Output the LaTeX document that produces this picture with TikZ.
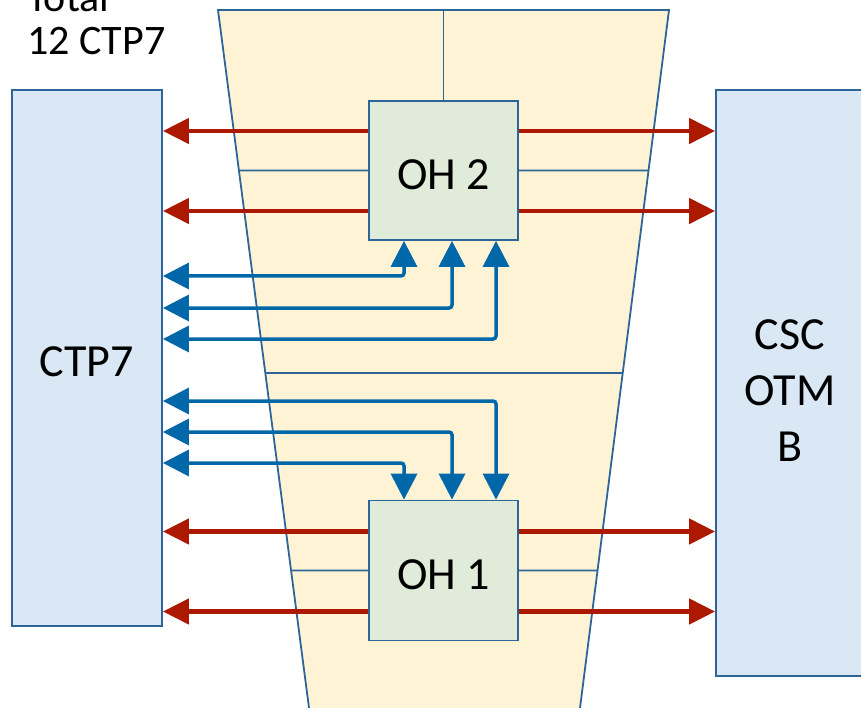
\documentclass[tikz,border=0pt]{standalone}
\usepackage{fontspec}
\setmainfont{Carlito}
\usetikzlibrary{arrows.meta,calc}
\definecolor{boxline}{HTML}{2E6599}
\definecolor{ctpfill}{HTML}{DAE8F5}
\definecolor{ohfill}{HTML}{E0EBDA}
\definecolor{trapfill}{HTML}{FFF3D6}
\definecolor{myred}{HTML}{AC1800}
\definecolor{myblue}{HTML}{0067A8}
\begin{document}
\begin{tikzpicture}[x=1pt,y=1pt,
  box/.style={draw=boxline, line width=1.8pt, inner sep=0pt},
  lbl/.style={font=\fontsize{46}{56}\selectfont},
  toplbl/.style={font=\fontsize{42}{50}\selectfont, inner sep=0pt, anchor=base west},
  thinline/.style={draw=boxline, line width=1.8pt},
  redarr/.style={draw=myred, line width=4.5pt, -{Triangle[length=26pt,width=25pt]}},
  bluearr/.style={draw=myblue, line width=3.5pt, rounded corners=3pt,
    {Triangle[length=26pt,width=26pt]}-{Triangle[length=26pt,width=26pt]}}]
\useasboundingbox (0,0) rectangle (861,-708);
\begin{scope}
\clip (0,0) rectangle (861,-708);
% trapezoid
\coordinate (tl) at (218,-10);
\coordinate (tr) at (669,-10);
\coordinate (bl) at (309,-708);
\coordinate (br) at (580,-708);
\fill[trapfill] (tl) -- (tr) -- ($(tr)!1.1!(br)$) -- ($(tl)!1.1!(bl)$) -- cycle;
\draw[thinline] ($(tl)!1.1!(bl)$) -- (tl) -- (tr) -- ($(tr)!1.1!(br)$);

% boxes
\node[box, fill=ctpfill, minimum width=150pt, minimum height=536pt,
      text height=37pt, text depth=0pt, lbl] (ctp7) at (87,-358) {CTP7};
\node[box, fill=ctpfill, minimum width=154pt, minimum height=586pt] (otmb) at (793,-383) {};
\node[lbl, align=center, inner sep=0pt, anchor=north] (otmbtext) at (790,-319) {CSC\\OTM\\B};
\node[box, fill=ohfill, minimum width=149pt, minimum height=139pt,
      text height=38pt, text depth=0pt, lbl] (oh2) at (443.5,-170.5) {OH 2};
\node[box, fill=ohfill, minimum width=149pt, minimum height=140pt,
      text height=38pt, text depth=0pt, lbl] (oh1) at (443.5,-570.5) {OH 1};

% inner lines of the trapezoid
\draw[thinline] ($(tl)!.5!(tr)$) -- (oh2.north);
\draw[thinline] (intersection cs: first line={(tl)--(bl)}, second line={(oh2.west)--(oh2.east)}) -- (oh2.west);
\draw[thinline] (oh2.east) -- (intersection cs: first line={(tr)--(br)}, second line={(oh2.west)--(oh2.east)});
\draw[thinline] (intersection cs: first line={(tl)--(bl)}, second line={(0,-373)--(1,-373)}) --
                (intersection cs: first line={(tr)--(br)}, second line={(0,-373)--(1,-373)});
\draw[thinline] (intersection cs: first line={(tl)--(bl)}, second line={(oh1.west)--(oh1.east)}) -- (oh1.west);
\draw[thinline] (oh1.east) -- (intersection cs: first line={(tr)--(br)}, second line={(oh1.west)--(oh1.east)});

% red links
\draw[redarr] ([yshift=39.5pt]oh2.west) -- ([yshift=39.5pt]oh2.west -| ctp7.east);
\draw[redarr] ([yshift=-40.5pt]oh2.west) -- ([yshift=-40.5pt]oh2.west -| ctp7.east);
\draw[redarr] ([yshift=39.5pt]oh2.east) -- ([yshift=39.5pt]oh2.east -| otmb.west);
\draw[redarr] ([yshift=-40.5pt]oh2.east) -- ([yshift=-40.5pt]oh2.east -| otmb.west);
\draw[redarr] ([yshift=39pt]oh1.west) -- ([yshift=39pt]oh1.west -| ctp7.east);
\draw[redarr] ([yshift=-41pt]oh1.west) -- ([yshift=-41pt]oh1.west -| ctp7.east);
\draw[redarr] ([yshift=39pt]oh1.east) -- ([yshift=39pt]oh1.east -| otmb.west);
\draw[redarr] ([yshift=-41pt]oh1.east) -- ([yshift=-41pt]oh1.east -| otmb.west);

% blue links
\draw[bluearr] ([xshift=-39.5pt]oh2.south) |- (ctp7.east |- 0,-276);
\draw[bluearr] ([xshift=8.5pt]oh2.south) |- (ctp7.east |- 0,-308);
\draw[bluearr] ([xshift=52.5pt]oh2.south) |- (ctp7.east |- 0,-339);
\draw[bluearr] ([xshift=52.5pt]oh1.north) |- (ctp7.east |- 0,-401);
\draw[bluearr] ([xshift=8.5pt]oh1.north) |- (ctp7.east |- 0,-432);
\draw[bluearr] ([xshift=-39.5pt]oh1.north) |- (ctp7.east |- 0,-463);

% top-left text
\node[toplbl] (total) at (27,-12) {Total};
\node[toplbl] (count) at (27,-55) {12 CTP7};
\end{scope}
\end{tikzpicture}
\end{document}
